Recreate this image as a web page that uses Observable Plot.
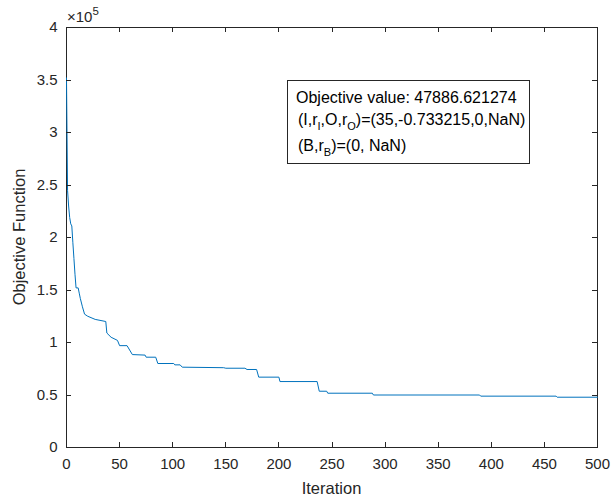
<!DOCTYPE html>
<html>
<head>
<meta charset="utf-8">
<script src="https://cdn.jsdelivr.net/npm/d3@7"></script>
<script src="https://cdn.jsdelivr.net/npm/@observablehq/plot@0.6"></script>
<style>
  html, body { margin: 0; padding: 0; background: #fff; }
  #chart { width: 611px; height: 500px; }
</style>
</head>
<body>
<div id="chart"></div>
<script>
// Iteration breakpoints of the convergence curve
const iterations = [0, 1, 2, 3, 4, 5, 6, 7, 8, 9, 11, 12, 13, 15, 17, 20, 27, 37, 38, 42, 48, 50, 57, 62, 74, 75, 84, 86, 101, 102, 107, 109, 148, 150, 168, 170, 179, 181, 200, 201, 236, 238, 245, 246, 288, 289, 389, 390, 461, 462, 500];
// Objective function values (x 10^5)
const objective = [3.52, 2.45, 2.30, 2.19, 2.13, 2.11, 1.95, 1.80, 1.65, 1.52, 1.52, 1.47, 1.42, 1.34, 1.27, 1.25, 1.22, 1.20, 1.09, 1.05, 1.02, 0.97, 0.97, 0.885, 0.88, 0.86, 0.86, 0.80, 0.80, 0.787, 0.787, 0.765, 0.76, 0.755, 0.755, 0.743, 0.743, 0.67, 0.67, 0.628, 0.628, 0.536, 0.536, 0.517, 0.517, 0.50, 0.50, 0.489, 0.489, 0.4789, 0.4789];
const xTicks = [0, 50, 100, 150, 200, 250, 300, 350, 400, 450, 500];
const yTicks = [0, 0.5, 1, 1.5, 2, 2.5, 3, 3.5, 4];
const yTickLabels = ["0", "0.5", "1", "1.5", "2", "2.5", "3", "3.5", "4"];

(function () {
const data = iterations.map((it, i) => ({it, v: objective[i]}));
const ink = "#262626";
const font = "'Liberation Sans', Arial, Helvetica, sans-serif";

const plot = Plot.plot({
  width: 611,
  height: 500,
  marginTop: 27,
  marginRight: 14,
  marginBottom: 53,
  marginLeft: 66,
  style: {fontFamily: font, fontSize: "15px", color: ink, background: "#fff"},
  x: {domain: [0, 500]},
  y: {domain: [0, 4]},
  marks: [
    Plot.frame({stroke: ink, strokeWidth: 1}),
    Plot.line(data, {x: "it", y: "v", stroke: "#0072BD", strokeWidth: 1}),
    Plot.axisX({ticks: xTicks, tickSize: 0, tickPadding: 11, label: null, fontSize: 15}),
    Plot.axisY({ticks: yTicks, tickSize: 0, tickPadding: 9, tickFormat: (d) => yTickLabels[yTicks.indexOf(d)], label: null, fontSize: 15})
  ]
});

document.getElementById("chart").appendChild(plot);

const svg = d3.select(plot);
const sx = plot.scale("x"), sy = plot.scale("y");
const xL = sx.apply(0), xR = sx.apply(500), yT = sy.apply(4), yB = sy.apply(0);

// inward ticks on all four sides (MATLAB box style), placed via the plot's scales
const tl = 5;
const g = svg.append("g").attr("stroke", ink).attr("stroke-width", 1);
xTicks.forEach(t => {
  const x = Math.round(sx.apply(t)) + 0.5;
  g.append("line").attr("x1", x).attr("x2", x).attr("y1", yB).attr("y2", yB - tl);
  g.append("line").attr("x1", x).attr("x2", x).attr("y1", yT).attr("y2", yT + tl);
});
yTicks.forEach(t => {
  const y = Math.round(sy.apply(t)) + 0.5;
  g.append("line").attr("y1", y).attr("y2", y).attr("x1", xL).attr("x2", xL + tl);
  g.append("line").attr("y1", y).attr("y2", y).attr("x1", xR).attr("x2", xR - tl);
});

// axis labels
svg.append("text").attr("x", (xL + xR) / 2).attr("y", yB + 47)
  .attr("text-anchor", "middle").attr("fill", ink).attr("font-family", font).attr("font-size", 16.5)
  .text("Iteration");
svg.append("text").attr("transform", `translate(25,${(yT + yB) / 2}) rotate(-90)`)
  .attr("text-anchor", "middle").attr("fill", ink).attr("font-family", font).attr("font-size", 16.5)
  .text("Objective Function");

// exponent label
const ex = svg.append("text").attr("x", xL + 1).attr("y", yT - 5).attr("text-anchor", "start")
  .attr("fill", ink).attr("font-family", font).attr("font-size", 15);
ex.append("tspan").text("\u00d710");
ex.append("tspan").attr("dy", -7).attr("font-size", 11.5).text("5");

// annotation box
const bx = 287, by = 80, bw = 242, bh = 83;
svg.append("rect").attr("x", bx + 0.5).attr("y", by + 0.5).attr("width", bw).attr("height", bh)
  .attr("fill", "#fff").attr("stroke", ink).attr("stroke-width", 1);
const tg = svg.append("g").attr("fill", "#000").attr("font-family", font).attr("font-size", 16).attr("text-anchor", "start");
tg.append("text").attr("x", bx + 9).attr("y", by + 23).text("Objective value: 47886.621274");
const l2 = tg.append("text").attr("x", bx + 11).attr("y", by + 45);
const parts2 = [["(I,r", 0], ["I", 1], [",O,r", 0], ["O", 1], [")=(35,-0.733215,0,NaN)", 0]];
parts2.forEach(([s, sub]) => l2.append("tspan").attr("baseline-shift", sub ? "-5" : null).attr("font-size", sub ? 11 : 16).text(s));
const l3 = tg.append("text").attr("x", bx + 11).attr("y", by + 71);
const parts3 = [["(B,r", 0], ["B", 1], [")=(0, NaN)", 0]];
parts3.forEach(([s, sub]) => l3.append("tspan").attr("baseline-shift", sub ? "-5" : null).attr("font-size", sub ? 11 : 16).text(s));
})();
</script>
</body>
</html>
